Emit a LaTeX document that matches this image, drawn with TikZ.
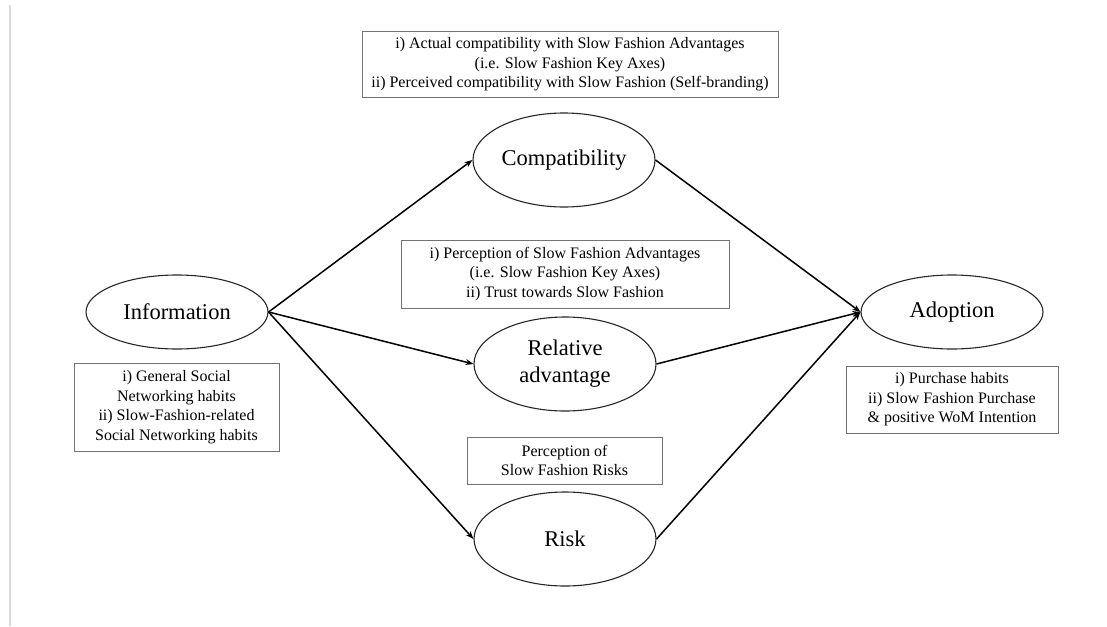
\documentclass[tikz,border=0pt]{standalone}
\usepackage{fontspec}
\setmainfont{Liberation Serif}
\usetikzlibrary{shapes.geometric,arrows.meta}
\begin{document}
\begin{tikzpicture}[x=1pt,y=-1pt,
  construct/.style={draw=black!85, line width=1.1pt, ellipse, inner sep=0pt,
    minimum width=182pt, align=center, font=\fontsize{22.5}{27}\selectfont},
  tall/.style={minimum height=94pt},
  flat/.style={minimum height=74pt},
  measure/.style={draw=black!55, line width=1pt, rectangle, inner sep=0pt,
    align=center, font=\fontsize{16}{19.5}\selectfont},
  link/.style={line width=1.5pt, -{Stealth[length=8pt,width=6pt]}}
]
\useasboundingbox (0,0) rectangle (1107,626);
% page edge
\draw[black!15, line width=1.5pt] (10,5) -- (10,626);

% constructs
\node[construct,flat] (info)  at (177,312) {Information};
\node[construct,tall] (comp)  at (564,160) {Compatibility};
\node[construct,tall] (rel)   at (565,364) {Relative\\advantage};
\node[construct,tall] (risk)  at (565,539) {Risk};
\node[construct,flat] (adopt) at (952,312) {Adoption};

% measured items
\node[measure, minimum width=416pt, minimum height=65pt] (compbox) at (570,64.5)
  {i) Actual compatibility with Slow Fashion Advantages\\(i.e. Slow Fashion Key Axes)\\ii) Perceived compatibility with Slow Fashion (Self-branding)};
\node[measure, minimum width=328pt, minimum height=68pt] (relbox) at (565,274)
  {i) Perception of Slow Fashion Advantages\\(i.e. Slow Fashion Key Axes)\\ii) Trust towards Slow Fashion};
\node[measure, minimum width=195pt, minimum height=47pt] (riskbox) at (564.5,460.5)
  {Perception of\\Slow Fashion Risks};
\node[measure, minimum width=205pt, minimum height=88pt] (infobox) at (176.5,407)
  {i) General Social\\Networking habits\\ii) Slow-Fashion-related\\Social Networking habits};
\node[measure, minimum width=212pt, minimum height=67pt] (adoptbox) at (952,399.5)
  {i) Purchase habits\\ii) Slow Fashion Purchase\\\& positive WoM Intention};

% paths
\draw[link] (info.east) -- (comp.west);
\draw[link] (info.east) -- (rel.west);
\draw[link] (info.east) -- (risk.west);
\draw[link] (comp.east) -- (adopt.west);
\draw[link] (rel.east)  -- (adopt.west);
\draw[link] (risk.east) -- (adopt.west);
\end{tikzpicture}
\end{document}
